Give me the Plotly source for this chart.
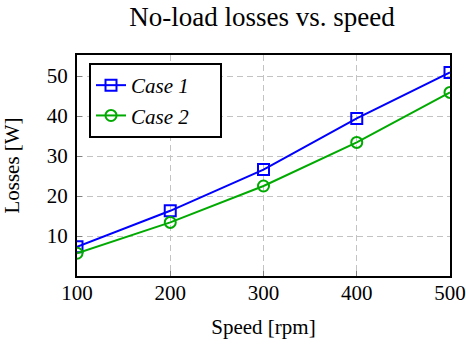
import plotly.graph_objects as go

speed = [100, 200, 300, 400, 500]
case1 = [7.3, 16.3, 26.6, 39.4, 50.9]
case2 = [5.7, 13.4, 22.5, 33.4, 45.9]
x_ticks = [100, 200, 300, 400, 500]
y_ticks = [10, 20, 30, 40, 50]

FONT = "Liberation Serif, Times New Roman, serif"

W, H = 466, 348
PL, PR, PT, PB = 77, 450, 55, 276

fig = go.Figure()
fig.add_trace(go.Scatter(
    x=speed, y=case1, mode="lines+markers", name="<i>Case 1</i>&nbsp;&nbsp;&nbsp;&nbsp;&nbsp;",
    line=dict(color="rgb(0,0,255)", width=2),
    marker=dict(symbol="square-open", size=11, color="rgb(0,0,255)", line=dict(width=2)),
))
fig.add_trace(go.Scatter(
    x=speed, y=case2, mode="lines+markers", name="<i>Case 2</i>&nbsp;&nbsp;&nbsp;&nbsp;&nbsp;",
    line=dict(color="rgb(0,170,0)", width=2),
    marker=dict(symbol="circle-open", size=11, color="rgb(0,170,0)", line=dict(width=2)),
))

fig.update_layout(
    width=W, height=H,
    margin=dict(l=PL, r=W - PR, t=PT, b=H - PB, autoexpand=False),
    paper_bgcolor="white", plot_bgcolor="white",
    font=dict(family=FONT, size=20, color="black"),
    title=dict(text="No-load losses vs. speed", x=262 / W, xanchor="center",
               y=1 - 17 / H, yanchor="middle",
               font=dict(family=FONT, size=27)),
    legend=dict(x=(89 - PL) / (PR - PL), y=1 - (63 - PT) / (PB - PT), xanchor="left", yanchor="top",
                bordercolor="black", borderwidth=2, bgcolor="white",
                font=dict(family=FONT, size=21), tracegroupgap=0),
    showlegend=True,
)
grid = dict(showgrid=True, gridcolor="rgb(195,195,195)", griddash="6px,4px", gridwidth=1)
fig.update_xaxes(
    range=[100, 500], tickvals=x_ticks, ticktext=[str(v) for v in x_ticks],
    tickfont=dict(family=FONT, size=21), automargin=False, ticklabelstandoff=-3,
    showline=True, linecolor="black", linewidth=2, mirror=True,
    ticks="inside", ticklen=5, tickcolor="gray",
    zeroline=False, **grid,
    title=dict(text="Speed [rpm]", font=dict(family=FONT, size=21), standoff=15),
)
fig.update_yaxes(
    range=[0, 55.25], tickvals=y_ticks, ticktext=[str(v) for v in y_ticks],
    tickfont=dict(family=FONT, size=21), automargin=False, ticklabelstandoff=3,
    showline=True, linecolor="black", linewidth=2, mirror=True,
    ticks="inside", ticklen=5, tickcolor="gray",
    zeroline=False, **grid,
    title=dict(text="Losses [W]", font=dict(family=FONT, size=21), standoff=28),
)

fig.write_html("out.html", config={"displayModeBar": False},
               post_script="document.body.style.margin='0';document.body.style.padding='0';")
